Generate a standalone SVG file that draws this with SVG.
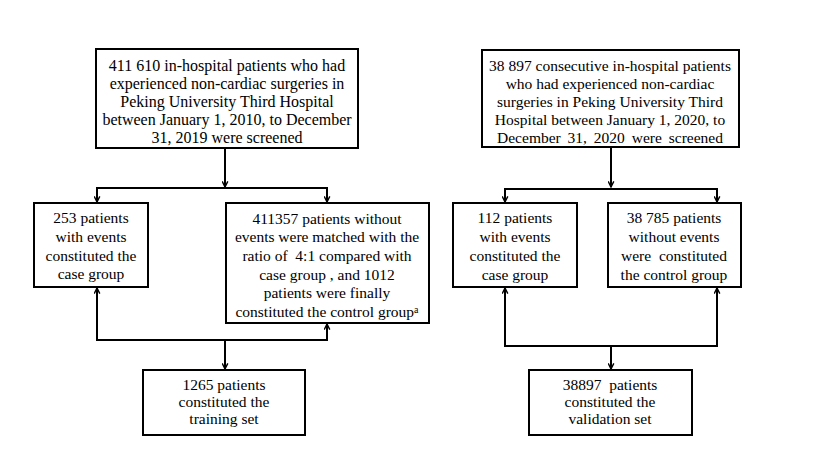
<svg xmlns="http://www.w3.org/2000/svg" width="829" height="466" viewBox="0 0 829 466">
<defs>
<style>
.box{fill:#fff;stroke:#000;stroke-width:2}
.t{font-family:'Liberation Serif','Times New Roman',serif;font-size:15.5px;fill:#000;text-anchor:middle}
.big{font-size:16px}
.ln{fill:none;stroke:#000;stroke-width:2}
</style>
<marker id="ah" viewBox="0 0 10 10" refX="9" refY="5" markerWidth="7" markerHeight="7" markerUnits="userSpaceOnUse" orient="auto">
<path d="M1,1 L9,5 L1,9" fill="none" stroke="#000" stroke-width="2"/>
</marker>
</defs>
<rect width="829" height="466" fill="#fff"/>
<g id="connectors">
<path class="ln" d="M225,148 V187" marker-end="url(#ah)"/>
<path class="ln" d="M97,203 V188 H327 V203" />
<path class="ln" d="M97,196 V202" marker-end="url(#ah)"/>
<path class="ln" d="M327,196 V202" marker-end="url(#ah)"/>
<path class="ln" d="M97,287 V340 H327 V324"/>
<path class="ln" d="M97,294 V288" marker-end="url(#ah)"/>
<path class="ln" d="M327,331 V324" marker-end="url(#ah)"/>
<path class="ln" d="M225,340 V369" marker-end="url(#ah)"/>
<path class="ln" d="M611,147 V187" marker-end="url(#ah)"/>
<path class="ln" d="M505,203 V189 H717 V203"/>
<path class="ln" d="M505,196 V202" marker-end="url(#ah)"/>
<path class="ln" d="M717,196 V202" marker-end="url(#ah)"/>
<path class="ln" d="M505,288 V346 H717 V288"/>
<path class="ln" d="M505,295 V288" marker-end="url(#ah)"/>
<path class="ln" d="M717,295 V288" marker-end="url(#ah)"/>
<path class="ln" d="M611,346 V369" marker-end="url(#ah)"/>
</g>
<g id="n1">
<rect class="box" x="96" y="49" width="262" height="99"/>
<text class="t big" x="227" y="71">411 610 in-hospital patients who had</text>
<text class="t big" x="227" y="89">experienced non-cardiac surgeries in</text>
<text class="t big" x="227" y="107">Peking University Third Hospital</text>
<text class="t big" x="227" y="125">between January 1, 2010, to December</text>
<text class="t big" x="227" y="143">31, 2019 were screened</text>
</g>
<g id="n2">
<rect class="box" x="34" y="203" width="114" height="84"/>
<text class="t" x="91" y="223">253 patients</text>
<text class="t" x="91" y="242">with events</text>
<text class="t" x="91" y="261">constituted the</text>
<text class="t" x="91" y="279">case group</text>
</g>
<g id="n3">
<rect class="box" x="226" y="203" width="203" height="120"/>
<text class="t" x="327" y="224">411357 patients without</text>
<text class="t" x="327" y="242">events were matched with the</text>
<text class="t" x="327" y="261" xml:space="preserve">ratio of  4:1 compared with</text>
<text class="t" x="327" y="280">case group , and 1012</text>
<text class="t" x="327" y="298">patients were finally</text>
<text class="t" x="327" y="317">constituted the control group<tspan font-size="10" dy="-4">a</tspan></text>
</g>
<g id="n4">
<rect class="box" x="143" y="370" width="162" height="65"/>
<text class="t" x="224" y="390">1265 patients</text>
<text class="t" x="224" y="407">constituted the</text>
<text class="t" x="224" y="424">training set</text>
</g>
<g id="n5">
<rect class="box" x="482" y="50" width="257" height="97"/>
<text class="t" x="610" y="71">38 897 consecutive in-hospital patients</text>
<text class="t" x="610" y="89">who had experienced non-cardiac</text>
<text class="t" x="610" y="107">surgeries in Peking University Third</text>
<text class="t" x="610" y="125">Hospital between January 1, 2020, to</text>
<text class="t" x="610" y="143" word-spacing="3">December 31, 2020 were screened</text>
</g>
<g id="n6">
<rect class="box" x="453" y="203" width="124" height="84"/>
<text class="t" x="515" y="223">112 patients</text>
<text class="t" x="515" y="242">with events</text>
<text class="t" x="515" y="261">constituted the</text>
<text class="t" x="515" y="280">case group</text>
</g>
<g id="n7">
<rect class="box" x="608" y="203" width="133" height="84"/>
<text class="t" x="674" y="223">38 785 patients</text>
<text class="t" x="674" y="242">without events</text>
<text class="t" x="674" y="261" xml:space="preserve">were  constituted</text>
<text class="t" x="674" y="280">the control group</text>
</g>
<g id="n8">
<rect class="box" x="529" y="370" width="163" height="65"/>
<text class="t" x="610" y="390" xml:space="preserve">38897  patients</text>
<text class="t" x="610" y="407">constituted the</text>
<text class="t" x="610" y="424">validation set</text>
</g>
</svg>
